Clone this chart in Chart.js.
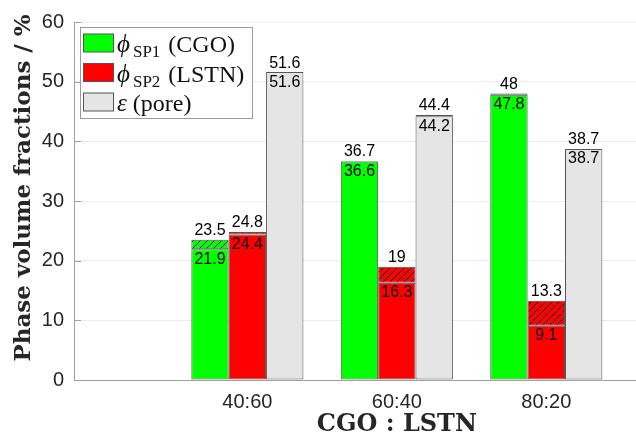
<!DOCTYPE html>
<html><head><meta charset="utf-8">
<script src="https://cdn.jsdelivr.net/npm/chart.js@4.4.1/dist/chart.umd.min.js"></script>
<style>html,body{margin:0;padding:0;background:#fff;overflow:hidden}canvas{display:block}</style>
</head><body>
<canvas id="c" width="636" height="435"></canvas>
<script>
// ---- data ----
const categories = ['40:60', '60:40', '80:20'];
const cgoSolid  = [21.9, 36.6, 47.8];
const cgoTotal  = [23.5, 36.7, 48];
const lstnSolid = [24.4, 16.3, 9.1];
const lstnTotal = [24.8, 19, 13.3];
const poreSolid = [51.6, 44.2, 38.7];
const poreTotal = [51.6, 44.4, 38.7];
const yTicks = [0, 10, 20, 30, 40, 50, 60];
const xTitle = 'CGO : LSTN';
const yTitle = 'Phase volume fractions / %';
const legendSymbols = ['ϕ', 'ϕ', 'ε'];
const legendSubs = ['SP1', 'SP2', ''];
const legendTexts = ['(CGO)', '(LSTN)', '(pore)'];

// ---- styles ----
const COLORS = ['#00ff00', '#ff0000', '#e5e5e5'];
const EDGE = '#555555';
const AXIS = '#a0a0a0';
const GRID = '#ebebeb';

const canvas = document.getElementById('c');
const ctx = canvas.getContext('2d');

function hatch(color) {
  const s = 7;
  const c = document.createElement('canvas');
  c.width = s; c.height = s;
  const g = c.getContext('2d');
  g.fillStyle = color; g.fillRect(0, 0, s, s);
  g.strokeStyle = '#000'; g.lineWidth = 1;
  g.beginPath();
  g.moveTo(0, s); g.lineTo(s, 0);
  g.moveTo(-2, 2); g.lineTo(2, -2);
  g.moveTo(s - 2, s + 2); g.lineTo(s + 2, s - 2);
  g.stroke();
  return ctx.createPattern(c, 'repeat');
}

const xs = categories.map((_, i) => i + 1);
const pts = arr => arr.map((v, i) => ({ x: xs[i], y: v }));
const diff = (tot, sol) => tot.map((v, i) => Math.round((v - sol[i]) * 100) / 100);

const series = [
  { key: 'cgo', solid: cgoSolid, total: cgoTotal },
  { key: 'lstn', solid: lstnSolid, total: lstnTotal },
  { key: 'pore', solid: poreSolid, total: poreTotal }
];

const datasets = [];
series.forEach((s, k) => {
  datasets.push({ label: s.key + '-solid', stack: s.key, data: pts(s.solid),
    backgroundColor: COLORS[k], borderColor: EDGE, borderWidth: 1, borderSkipped: false });
  datasets.push({ label: s.key + '-hatch', stack: s.key, data: pts(diff(s.total, s.solid)),
    backgroundColor: hatch(COLORS[k]), borderColor: EDGE, borderWidth: 1, borderSkipped: false });
});

const decor = {
  id: 'decor',
  beforeDatasetsDraw(chart) {
    const c = chart.ctx, ya = chart.scales.y, ca = chart.chartArea;
    c.save();
    c.strokeStyle = AXIS; c.lineWidth = 1;
    yTicks.forEach(v => {
      const p = Math.round(ya.getPixelForValue(v)) + 0.5;
      c.beginPath(); c.moveTo(ca.left, p); c.lineTo(ca.left + 7, p); c.stroke();
    });
    c.restore();
  },
  afterDraw(chart) {
    const c = chart.ctx;
    c.save();
    // value labels
    c.font = '16px "Liberation Sans", Arial, sans-serif';
    c.fillStyle = '#000';
    c.textAlign = 'center';
    series.forEach((s, k) => {
      const mSolid = chart.getDatasetMeta(2 * k);
      const mHatch = chart.getDatasetMeta(2 * k + 1);
      s.solid.forEach((v, i) => {
        const bs = mSolid.data[i], bh = mHatch.data[i];
        c.textBaseline = 'bottom';
        c.fillText(String(s.total[i]), bh.x, Math.min(bh.y, bs.y) - 1);
        c.textBaseline = 'top';
        c.fillText(String(v), bs.x, bs.y + 2);
      });
    });
    // axis titles
    const xa = chart.scales.x;
    c.fillStyle = '#262626';
    c.font = 'bold 24px "DejaVu Serif", serif';
    c.textAlign = 'center'; c.textBaseline = 'middle';
    c.fillText(xTitle, xa.getPixelForValue(2), 425);
    c.save();
    c.translate(24, 188);
    c.rotate(-Math.PI / 2);
    c.font = 'bold 23px "DejaVu Serif", serif';
    c.fillText(yTitle, 0, 0);
    c.restore();
    // legend
    const L = 80, T = 27, W = 172, H = 91;
    c.fillStyle = '#fff';
    c.fillRect(L, T, W, H);
    c.strokeStyle = '#9a9a9a'; c.lineWidth = 1;
    c.strokeRect(L + 0.5, T + 0.5, W, H);
    c.textAlign = 'left'; c.textBaseline = 'alphabetic';
    for (let k = 0; k < 3; k++) {
      const base = 52 + k * 29.5;
      c.fillStyle = COLORS[k];
      c.fillRect(83.5, base - 18, 30, 18);
      c.strokeStyle = EDGE;
      c.strokeRect(83.5, base - 18, 30, 18);
      c.fillStyle = '#111';
      let x = 117;
      c.font = 'italic 25px "Liberation Serif", "DejaVu Serif", serif';
      c.fillText(legendSymbols[k], x, base);
      x += c.measureText(legendSymbols[k]).width + 3;
      if (legendSubs[k]) {
        c.font = '17px "Liberation Serif", serif';
        c.fillText(legendSubs[k], x, base + 5);
        x += c.measureText(legendSubs[k]).width + 5;
      }
      x += 3;
      c.font = '24px "Liberation Serif", serif';
      c.fillText(legendTexts[k], x, base);
    }
    c.restore();
  }
};

new Chart(ctx, {
  type: 'bar',
  data: { datasets },
  options: {
    responsive: false,
    animation: false,
    layout: { padding: { left: 0, right: 0, top: 20, bottom: 0 } },
    datasets: { bar: { categoryPercentage: 0.75, barPercentage: 1 } },
    plugins: { legend: { display: false }, tooltip: { enabled: false } },
    scales: {
      x: {
        type: 'linear', min: -0.16, max: 3.6, offset: false,
        afterBuildTicks: s => { s.ticks = xs.map(v => ({ value: v })); },
        afterFit: s => { s.height = 55; },
        ticks: { font: { family: 'Liberation Sans', size: 20 }, color: '#262626', padding: 10,
          autoSkip: false, maxRotation: 0, callback: v => categories[v - 1] ?? '' },
        grid: { display: false, drawTicks: false, offset: false },
        border: { color: AXIS, width: 1 }
      },
      y: {
        stacked: true, min: 0, max: 60,
        afterBuildTicks: s => { s.ticks = yTicks.map(v => ({ value: v })); },
        afterFit: s => { s.width = 74; },
        ticks: { font: { family: 'Liberation Sans', size: 20 }, color: '#262626', padding: 10 },
        grid: { color: GRID, drawTicks: false },
        border: { color: AXIS, width: 1 }
      }
    }
  },
  plugins: [decor]
});
</script>
</body></html>
